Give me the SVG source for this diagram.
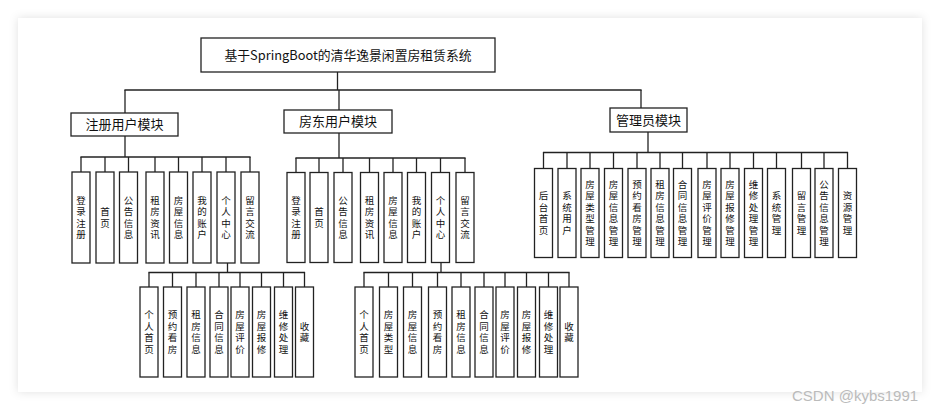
<svg xmlns="http://www.w3.org/2000/svg" width="940" height="410" viewBox="0 0 940 410">
<defs>
<filter id="sh" x="-5%" y="-5%" width="110%" height="110%">
<feDropShadow dx="0" dy="0" stdDeviation="5" flood-color="#000" flood-opacity="0.12"/>
</filter>
</defs>
<style>
.b{fill:#fff;stroke:#222;stroke-width:1.3}
.t{font-family:"Noto Sans CJK SC","Noto Sans",sans-serif;font-size:9.5px;fill:#111;text-anchor:middle;writing-mode:vertical-rl;letter-spacing:2px}
.m{font-family:"Noto Sans CJK SC","Noto Sans",sans-serif;font-size:13px;fill:#111;text-anchor:middle}
.c line{stroke:#222;stroke-width:1.3}
</style>
<rect width="940" height="410" fill="#fff"/>
<rect x="18" y="18" width="904" height="374" fill="#fff" filter="url(#sh)"/>

<g class="c" id="connectors">
<line x1="337.5" y1="72" x2="337.5" y2="90"/>
<line x1="124.4" y1="90" x2="641.6" y2="90"/>
<line x1="125" y1="90" x2="125" y2="113"/>
<line x1="339" y1="90" x2="339" y2="110"/>
<line x1="641" y1="90" x2="641" y2="108"/>
<line x1="125" y1="136" x2="125" y2="157"/>
<line x1="80.4" y1="157" x2="250.6" y2="157"/>
<line x1="81" y1="157" x2="81" y2="172"/>
<line x1="105" y1="157" x2="105" y2="172"/>
<line x1="128.5" y1="157" x2="128.5" y2="172"/>
<line x1="155" y1="157" x2="155" y2="172"/>
<line x1="178.5" y1="157" x2="178.5" y2="172"/>
<line x1="202" y1="157" x2="202" y2="172"/>
<line x1="226" y1="157" x2="226" y2="172"/>
<line x1="250" y1="157" x2="250" y2="172"/>
<line x1="227.5" y1="263" x2="227.5" y2="272.5"/>
<line x1="148.4" y1="272.5" x2="305.1" y2="272.5"/>
<line x1="149" y1="272.5" x2="149" y2="287"/>
<line x1="172.5" y1="272.5" x2="172.5" y2="287"/>
<line x1="196" y1="272.5" x2="196" y2="287"/>
<line x1="219" y1="272.5" x2="219" y2="287"/>
<line x1="240" y1="272.5" x2="240" y2="287"/>
<line x1="261.5" y1="272.5" x2="261.5" y2="287"/>
<line x1="283.5" y1="272.5" x2="283.5" y2="287"/>
<line x1="304.5" y1="272.5" x2="304.5" y2="287"/>
<line x1="339" y1="133" x2="339" y2="158"/>
<line x1="295.4" y1="158" x2="465.6" y2="158"/>
<line x1="296" y1="158" x2="296" y2="172.5"/>
<line x1="319" y1="158" x2="319" y2="172.5"/>
<line x1="343" y1="158" x2="343" y2="172.5"/>
<line x1="369.5" y1="158" x2="369.5" y2="172.5"/>
<line x1="393" y1="158" x2="393" y2="172.5"/>
<line x1="416.5" y1="158" x2="416.5" y2="172.5"/>
<line x1="440.5" y1="158" x2="440.5" y2="172.5"/>
<line x1="465" y1="158" x2="465" y2="172.5"/>
<line x1="441" y1="262.5" x2="441" y2="272.5"/>
<line x1="363.4" y1="272.5" x2="569.6" y2="272.5"/>
<line x1="364" y1="272.5" x2="364" y2="287"/>
<line x1="388.5" y1="272.5" x2="388.5" y2="287"/>
<line x1="412.5" y1="272.5" x2="412.5" y2="287"/>
<line x1="437.5" y1="272.5" x2="437.5" y2="287"/>
<line x1="461" y1="272.5" x2="461" y2="287"/>
<line x1="484" y1="272.5" x2="484" y2="287"/>
<line x1="505" y1="272.5" x2="505" y2="287"/>
<line x1="526.5" y1="272.5" x2="526.5" y2="287"/>
<line x1="548.5" y1="272.5" x2="548.5" y2="287"/>
<line x1="569" y1="272.5" x2="569" y2="287"/>
<line x1="648" y1="132" x2="648" y2="152.5"/>
<line x1="542.9" y1="152.5" x2="848.1" y2="152.5"/>
<line x1="543.5" y1="152.5" x2="543.5" y2="168.5"/>
<line x1="567" y1="152.5" x2="567" y2="168.5"/>
<line x1="590" y1="152.5" x2="590" y2="168.5"/>
<line x1="613.5" y1="152.5" x2="613.5" y2="168.5"/>
<line x1="637" y1="152.5" x2="637" y2="168.5"/>
<line x1="660" y1="152.5" x2="660" y2="168.5"/>
<line x1="682.5" y1="152.5" x2="682.5" y2="168.5"/>
<line x1="707" y1="152.5" x2="707" y2="168.5"/>
<line x1="730" y1="152.5" x2="730" y2="168.5"/>
<line x1="753.5" y1="152.5" x2="753.5" y2="168.5"/>
<line x1="776.5" y1="152.5" x2="776.5" y2="168.5"/>
<line x1="801.5" y1="152.5" x2="801.5" y2="168.5"/>
<line x1="824" y1="152.5" x2="824" y2="168.5"/>
<line x1="847.5" y1="152.5" x2="847.5" y2="168.5"/>
</g>

<g id="title"><rect class="b" x="201" y="38" width="294" height="34"/><text class="m" x="348" y="59.5" font-size="12.5" textLength="247" lengthAdjust="spacingAndGlyphs">基于SpringBoot的清华逸景闲置房租赁系统</text></g>
<g id="m-user"><rect class="b" x="71" y="113" width="107" height="23"/><text class="m" x="124.5" y="129">注册用户模块</text></g>
<g id="m-landlord"><rect class="b" x="284" y="110" width="108" height="23"/><text class="m" x="338" y="126">房东用户模块</text></g>
<g id="m-admin"><rect class="b" x="610" y="108" width="77" height="24"/><text class="m" x="648.5" y="124.5">管理员模块</text></g>

<g id="u1"><rect class="b" x="72" y="172" width="18" height="91"/><text class="t" x="81" y="218.5">登录注册</text></g>
<g id="u2"><rect class="b" x="96" y="172" width="18" height="91"/><text class="t" x="105" y="218.5">首页</text></g>
<g id="u3"><rect class="b" x="119.5" y="172" width="18" height="91"/><text class="t" x="128.5" y="218.5">公告信息</text></g>
<g id="u4"><rect class="b" x="146" y="172" width="18" height="91"/><text class="t" x="155" y="218.5">租房资讯</text></g>
<g id="u5"><rect class="b" x="169.5" y="172" width="18" height="91"/><text class="t" x="178.5" y="218.5">房屋信息</text></g>
<g id="u6"><rect class="b" x="193" y="172" width="18" height="91"/><text class="t" x="202" y="218.5">我的账户</text></g>
<g id="u7"><rect class="b" x="217" y="172" width="18" height="91"/><text class="t" x="226" y="218.5">个人中心</text></g>
<g id="u8"><rect class="b" x="241" y="172" width="18" height="91"/><text class="t" x="250" y="218.5">留言交流</text></g>

<g id="us1"><rect class="b" x="140" y="287" width="18" height="90"/><text class="t" x="149" y="333">个人首页</text></g>
<g id="us2"><rect class="b" x="163.5" y="287" width="18" height="90"/><text class="t" x="172.5" y="333">预约看房</text></g>
<g id="us3"><rect class="b" x="187" y="287" width="18" height="90"/><text class="t" x="196" y="333">租房信息</text></g>
<g id="us4"><rect class="b" x="210" y="287" width="18" height="90"/><text class="t" x="219" y="333">合同信息</text></g>
<g id="us5"><rect class="b" x="231" y="287" width="18" height="90"/><text class="t" x="240" y="333">房屋评价</text></g>
<g id="us6"><rect class="b" x="252.5" y="287" width="18" height="90"/><text class="t" x="261.5" y="333">房屋报修</text></g>
<g id="us7"><rect class="b" x="274.5" y="287" width="18" height="90"/><text class="t" x="283.5" y="333">维修处理</text></g>
<g id="us8"><rect class="b" x="295.5" y="287" width="18" height="90"/><text class="t" x="304.5" y="333">收藏</text></g>

<g id="l1"><rect class="b" x="287" y="172.5" width="18" height="90"/><text class="t" x="296" y="218.5">登录注册</text></g>
<g id="l2"><rect class="b" x="310" y="172.5" width="18" height="90"/><text class="t" x="319" y="218.5">首页</text></g>
<g id="l3"><rect class="b" x="334" y="172.5" width="18" height="90"/><text class="t" x="343" y="218.5">公告信息</text></g>
<g id="l4"><rect class="b" x="360.5" y="172.5" width="18" height="90"/><text class="t" x="369.5" y="218.5">租房资讯</text></g>
<g id="l5"><rect class="b" x="384" y="172.5" width="18" height="90"/><text class="t" x="393" y="218.5">房屋信息</text></g>
<g id="l6"><rect class="b" x="407.5" y="172.5" width="18" height="90"/><text class="t" x="416.5" y="218.5">我的账户</text></g>
<g id="l7"><rect class="b" x="431.5" y="172.5" width="18" height="90"/><text class="t" x="440.5" y="218.5">个人中心</text></g>
<g id="l8"><rect class="b" x="456" y="172.5" width="18" height="90"/><text class="t" x="465" y="218.5">留言交流</text></g>

<g id="ls1"><rect class="b" x="355" y="287" width="18" height="90"/><text class="t" x="364" y="333">个人首页</text></g>
<g id="ls2"><rect class="b" x="379.5" y="287" width="18" height="90"/><text class="t" x="388.5" y="333">房屋类型</text></g>
<g id="ls3"><rect class="b" x="403.5" y="287" width="18" height="90"/><text class="t" x="412.5" y="333">房屋信息</text></g>
<g id="ls4"><rect class="b" x="428.5" y="287" width="18" height="90"/><text class="t" x="437.5" y="333">预约看房</text></g>
<g id="ls5"><rect class="b" x="452" y="287" width="18" height="90"/><text class="t" x="461" y="333">租房信息</text></g>
<g id="ls6"><rect class="b" x="475" y="287" width="18" height="90"/><text class="t" x="484" y="333">合同信息</text></g>
<g id="ls7"><rect class="b" x="496" y="287" width="18" height="90"/><text class="t" x="505" y="333">房屋评价</text></g>
<g id="ls8"><rect class="b" x="517.5" y="287" width="18" height="90"/><text class="t" x="526.5" y="333">房屋报修</text></g>
<g id="ls9"><rect class="b" x="539.5" y="287" width="18" height="90"/><text class="t" x="548.5" y="333">维修处理</text></g>
<g id="ls10"><rect class="b" x="560" y="287" width="18" height="90"/><text class="t" x="569" y="333">收藏</text></g>

<g id="a1"><rect class="b" x="534.5" y="168.5" width="18" height="89"/><text class="t" x="543.5" y="214">后台首页</text></g>
<g id="a2"><rect class="b" x="558" y="168.5" width="18" height="89"/><text class="t" x="567" y="214">系统用户</text></g>
<g id="a3"><rect class="b" x="581" y="168.5" width="18" height="89"/><text class="t" x="590" y="214">房屋类型管理</text></g>
<g id="a4"><rect class="b" x="604.5" y="168.5" width="18" height="89"/><text class="t" x="613.5" y="214">房屋信息管理</text></g>
<g id="a5"><rect class="b" x="628" y="168.5" width="18" height="89"/><text class="t" x="637" y="214">预约看房管理</text></g>
<g id="a6"><rect class="b" x="651" y="168.5" width="18" height="89"/><text class="t" x="660" y="214">租房信息管理</text></g>
<g id="a7"><rect class="b" x="673.5" y="168.5" width="18" height="89"/><text class="t" x="682.5" y="214">合同信息管理</text></g>
<g id="a8"><rect class="b" x="698" y="168.5" width="18" height="89"/><text class="t" x="707" y="214">房屋评价管理</text></g>
<g id="a9"><rect class="b" x="721" y="168.5" width="18" height="89"/><text class="t" x="730" y="214">房屋报修管理</text></g>
<g id="a10"><rect class="b" x="744.5" y="168.5" width="18" height="89"/><text class="t" x="753.5" y="214">维修处理管理</text></g>
<g id="a11"><rect class="b" x="767.5" y="168.5" width="18" height="89"/><text class="t" x="776.5" y="214">系统管理</text></g>
<g id="a12"><rect class="b" x="792.5" y="168.5" width="18" height="89"/><text class="t" x="801.5" y="214">留言管理</text></g>
<g id="a13"><rect class="b" x="815" y="168.5" width="18" height="89"/><text class="t" x="824" y="214">公告信息管理</text></g>
<g id="a14"><rect class="b" x="838.5" y="168.5" width="18" height="89"/><text class="t" x="847.5" y="214">资源管理</text></g>

<text x="792" y="401" font-family="Liberation Sans, sans-serif" font-size="15" fill="#bbb">CSDN @kybs1991</text>
</svg>
